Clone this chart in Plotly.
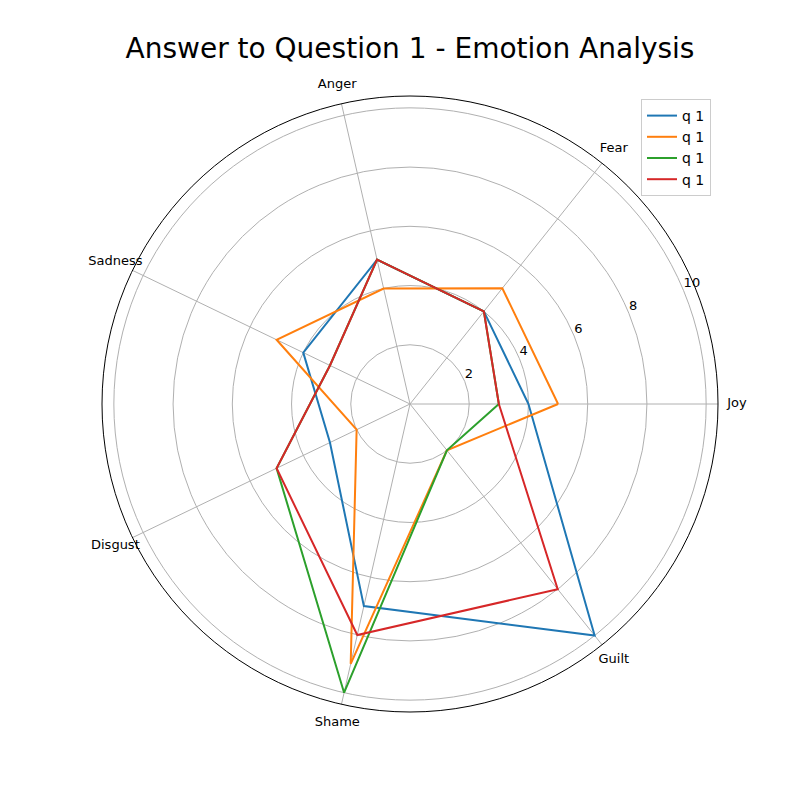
import plotly.graph_objects as go

categories = ["Joy", "Fear", "Anger", "Sadness", "Disgust", "Shame", "Guilt"]
series_names = ["q 1", "q 1", "q 1", "q 1"]
blue_vals = [4, 4, 5, 4, 3, 7, 10]
orange_vals = [5, 5, 4, 5, 2, 9, 2]
green_vals = [3, 4, 5, 3, 5, 10, 2]
red_vals = [3, 4, 5, 3, 5, 8, 8]
radial_ticks = [2, 4, 6, 8, 10]

colors = ["#1f77b4", "#ff7f0e", "#2ca02c", "#d62728"]
all_vals = [blue_vals, orange_vals, green_vals, red_vals]

n = len(categories)
angles = [i * 360.0 / n for i in range(n)]
r_max = 10.4
rlabel_angle = 22.5

# plot area is 654 px square; main polar radius 308 px, label ring radius 327 px
inner = (327.0 - 308.0) / 654.0

fig = go.Figure()
for name, vals, c in zip(series_names, all_vals, colors):
    fig.add_trace(go.Scatterpolar(
        r=vals + [vals[0]],
        theta=angles + [angles[0]],
        mode="lines",
        line=dict(color=c, width=2),
        name=name,
    ))

font = "DejaVu Sans, Liberation Sans, sans-serif"

# radial tick labels (horizontal, at 22.5 degrees)
fig.add_trace(go.Scatterpolar(
    r=radial_ticks, theta=[rlabel_angle] * len(radial_ticks),
    mode="text", text=[str(t) for t in radial_ticks], textposition="top right",
    textfont=dict(size=13, family=font, color="black"),
    showlegend=False, hoverinfo="skip", cliponaxis=False,
))
# angular tick labels, centred on a ring just outside the frame (second, invisible polar)
fig.add_trace(go.Scatterpolar(
    r=[1.0] * n, theta=angles, subplot="polar2",
    mode="text", text=categories, textposition="middle center",
    textfont=dict(size=13, family=font, color="black"),
    showlegend=False, hoverinfo="skip", cliponaxis=False,
))

fig.update_layout(
    width=800, height=800,
    margin=dict(l=83, r=63, t=77, b=69),
    paper_bgcolor="white",
    plot_bgcolor="white",
    font=dict(family=font, size=13, color="black"),
    title=dict(text="Answer to Question 1 - Emotion Analysis", x=0.5125, xanchor="center",
               y=0.94, yanchor="middle", font=dict(size=28, family=font, color="black")),
    showlegend=True,
    legend=dict(x=(711 - 83) / 654.0, y=(731 - 99) / 654.0, xanchor="right", yanchor="top",
                bgcolor="white", bordercolor="#cccccc", borderwidth=1,
                font=dict(size=14, family=font)),
    polar=dict(
        domain=dict(x=[inner, 1 - inner], y=[inner, 1 - inner]),
        bgcolor="white",
        radialaxis=dict(range=[0, r_max], tickvals=radial_ticks, showticklabels=False,
                        angle=rlabel_angle, showline=False, ticks="",
                        gridcolor="#b0b0b0", gridwidth=1),
        angularaxis=dict(rotation=0, direction="counterclockwise", tickvals=angles,
                         showticklabels=False,
                         showline=True, linecolor="black", linewidth=1, ticks="",
                         gridcolor="#b0b0b0", gridwidth=1),
    ),
    polar2=dict(
        domain=dict(x=[0, 1], y=[0, 1]),
        bgcolor="rgba(0,0,0,0)",
        radialaxis=dict(range=[0, 1.0], visible=False, showgrid=False, showline=False,
                        showticklabels=False, ticks=""),
        angularaxis=dict(rotation=0, direction="counterclockwise", showgrid=False,
                         showline=False, showticklabels=False, ticks=""),
    ),
)

fig.write_html("out.html")
